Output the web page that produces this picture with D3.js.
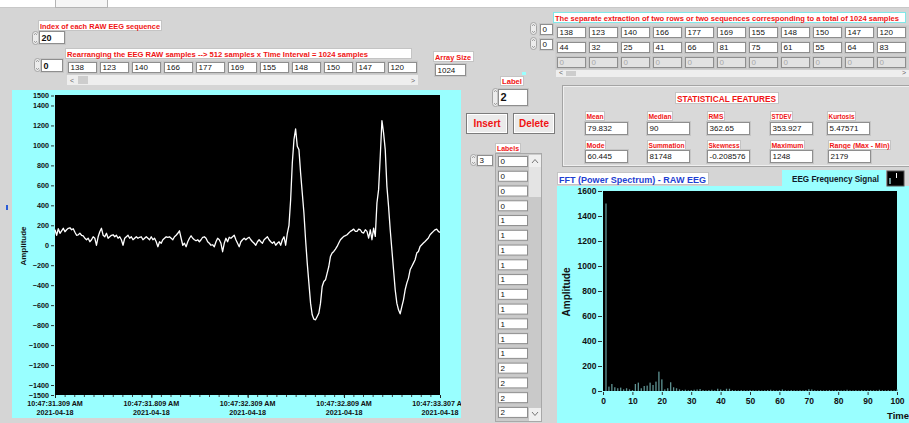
<!DOCTYPE html>
<html><head><meta charset="utf-8">
<script src="https://cdn.jsdelivr.net/npm/d3@7"></script>
<style>
body{margin:0;background:#d5d5d5;overflow:hidden}
svg{display:block;font-family:"Liberation Sans",Arial,sans-serif}
</style>
</head><body><svg id="c" width="909" height="423"></svg>
<script>
// ---------------- DATA ----------------
const rawSeqRow = [138,123,140,166,177,169,155,148,150,147,120];
const extractRow1 = [138,123,140,166,177,169,155,148,150,147,120];
const extractRow2 = [44,32,25,41,66,81,75,61,55,64,83];
const extractRow3 = [0,0,0,0,0,0,0,0,0,0,0];
const sequenceIndex = "20";
const rowIndex = "0";
const arraySize = "1024";
const labelValue = "2";
const labelsIndex = "3";
const labelList = [0,0,0,0,1,1,1,1,1,1,1,1,1,1,2,2,2,2];
const statNamesRow1 = ["Mean","Median","RMS","STDEV","Kurtosis"];
const statValuesRow1 = ["79.832","90","362.65","353.927","5.47571"];
const statNamesRow2 = ["Mode","Summation","Skewness","Maximum","Range (Max - Min)"];
const statValuesRow2 = ["60.445","81748","-0.208576","1248","2179"];

// EEG waveform: seconds after 10:47
const eegTimeStart = 31.309, eegTimeEnd = 33.307;
const eegTickTimes = [31.309,31.809,32.309,32.809,33.307];
const eegTickLabels = ["10:47:31.309 AM","10:47:31.809 AM","10:47:32.309 AM","10:47:32.809 AM","10:47:33.307 AM"];
const eegDateLabel = "2021-04-18";
const eegYTicks = [1500,1400,1200,1000,800,600,400,200,0,-200,-400,-600,-800,-1000,-1200,-1400,-1500];
const eegValues = [
155,100,165,120,145,170,135,155,170,175,
155,165,130,100,105,120,100,95,70,55,
70,35,55,85,70,0,85,135,170,100,
85,120,70,85,100,105,85,100,70,85,
55,0,70,85,100,70,85,55,70,85,
70,80,85,55,70,85,70,55,85,55,
70,35,-15,35,20,55,70,85,80,
85,70,55,85,100,120,145,70,0,20,
-15,35,70,95,70,55,45,55,35,55,
80,85,70,35,20,0,5,-15,35,70,
55,20,-65,20,70,35,80,70,85,100,
55,20,-15,35,55,70,55,70,80,55,
35,20,0,35,55,35,20,55,70,85,
55,35,20,35,0,20,35,0,55,85,
0,120,200,
456,824,1058,1165,991,958,724,523,323,55,
-179,-379,-580,-697,-741,-747,-714,-680,-580,-413,
-363,-346,-279,-213,-112,-78,-62,-38,-12,22,
55,72,89,96,105,122,139,149,162,139,
139,162,155,128,122,155,139,72,155,55,
172,89,423,557,891,1248,1125,958,590,389,
155,-45,-246,-446,-580,-647,-687,-614,-547,-446,
-379,-329,-246,-213,-179,-145,-78,-62,-12,5,
22,38,55,72,105,122,139,155,162,139,
128];

// FFT power spectrum, index = frequency bin 0..100
const fftValues = [
0,1500,35,56,30,22,27,13,22,13,
8,56,67,22,40,43,67,48,75,155,
93,13,22,70,30,22,13,8,10,6,
8,10,12,16,8,6,8,10,6,18,
12,6,18,18,8,6,5,8,6,5,
8,6,5,7,5,6,8,10,6,5,
7,12,6,5,8,6,5,7,6,8,
14,12,6,5,7,5,6,8,5,6,
7,5,6,10,6,5,7,5,8,6,
5,7,6,5,10,6,5,7,6,5,12];
const fftYTicks = [0,200,400,600,800,1000,1200,1400,1600];
const fftXTicks = [0,10,20,30,40,50,60,70,80,90,100];

// ---------------- DRAWING ----------------
const svg = d3.select("#c");
const RED = "#f01414", CYAN = "#99ffff";
function R(x,y,w,h,fill,stroke,sw){const r=svg.append("rect").attr("x",x).attr("y",y).attr("width",w).attr("height",h).attr("fill",fill||"none");if(stroke)r.attr("stroke",stroke).attr("stroke-width",sw||1);return r;}
function T(x,y,s,o){o=o||{};const t=svg.append("text").attr("x",x).attr("y",y).attr("font-size",o.fs||8).attr("fill",o.color||"#000").text(s);
 if(o.bold)t.attr("font-weight","bold");if(o.anchor)t.attr("text-anchor",o.anchor);
 if(o.tw)t.attr("textLength",o.tw).attr("lengthAdjust","spacingAndGlyphs");return t;}
function labelBox(x,y,w,h,s,o){o=o||{};
 R(x+0.5,y+0.5,w-1,h-1,"#fff",o.border||"#c4c4c4");
 T(x+(o.pad||2),y+h-2.3,s,{fs:o.fs||8,bold:true,color:o.color||RED,tw:o.tw});}
function cell(x,y,w,h,s,o){o=o||{};
 R(x-0.5,y-0.5,w+1,h+1,"none","#c6c6c6");
 R(x+0.5,y+0.5,w-1,h-1,o.disabled?"#e2e2e2":"#fff","#8e8e8e");
 T(x+2.5,y+h/2+(o.fs||8)*0.36,s,{fs:o.fs||8,bold:o.bold,color:o.disabled?"#a8a8a8":"#111"});}
function spinner(x,y,w,h){
 R(x+0.5,y+0.5,w-1,h-1,"#ececec","#a4a4a4").attr("rx",(w-1)/2);
 const cx=x+w/2;
 svg.append("path").attr("d",`M${cx-1.5},${y+4}L${cx},${y+2.3}L${cx+1.5},${y+4}`).attr("stroke","#8a8a8a").attr("fill","none").attr("stroke-width",0.8);
 svg.append("path").attr("d",`M${cx-1.5},${y+h-4}L${cx},${y+h-2.3}L${cx+1.5},${y+h-4}`).attr("stroke","#8a8a8a").attr("fill","none").attr("stroke-width",0.8);}
function button(x,y,w,h,s){
 R(x+0.5,y+0.5,w-1,h-1,"#ebebeb","#7c7c7c");
 R(x+1.5,y+1.5,w-3,h-3,"none","#ffffff");
 T(x+w/2,y+h/2+3.6,s,{fs:10,bold:true,color:RED,anchor:"middle"});}
function hscroll(x,y,w,h,thumbX,thumbW){
 R(x,y,w,h,"#eeeeee");
 if(thumbW)R(thumbX,y+1,thumbW,h-2,"#cdcdcd");
 T(x+3,y+h-2,"<",{fs:7,color:"#666"});T(x+w-7,y+h-2,">",{fs:7,color:"#666"});}

// top white strip with tab
R(0,0,909,8,"#ffffff");
svg.append("line").attr("x1",0).attr("x2",909).attr("y1",7.5).attr("y2",7.5).attr("stroke","#c8c8c8");
R(55.5,-1,52,8.5,"#f6f6f6","#b4b4b4");

// top-left controls
labelBox(38,20,124,11,"Index of each RAW EEG sequence",{tw:120});
spinner(32,31,7,14); cell(39,31,26,13,sequenceIndex,{bold:true,fs:9});
spinner(34,58,7,14); cell(41,59,22,13,rowIndex,{bold:true,fs:9});
labelBox(65,48,347,11,"Rearranging the EEG RAW samples --> 512 samples x Time Interval = 1024 samples",{tw:301});
R(66,60,352,15,"#cfcfcf");
rawSeqRow.forEach((v,i)=>cell(68+i*32,62,29,11,String(v)));
hscroll(67,75,351,10,78,10);

labelBox(433,51,41,11,"Array Size",{tw:36});
cell(435,64,31,12,arraySize);

// top-right array
labelBox(553,12,353,11,"The separate extraction of two rows or two sequences corresponding to a total of 1024 samples",{tw:344,fs:7.2,border:"#80e8e8"});
spinner(530,22,7,13); cell(540,24,13,11,rowIndex);
spinner(530,37,7,13); cell(540,39,13,11,rowIndex);
R(555,25,354,45,"#cfcfcf");
extractRow1.forEach((v,i)=>cell(557+i*32,27,29,11,String(v)));
extractRow2.forEach((v,i)=>cell(557+i*32,42,29,11,String(v)));
extractRow3.forEach((v,i)=>cell(557+i*32,57,29,11,String(v),{disabled:true}));
hscroll(556,70,353,7,566,10);
R(522,72,4,3,CYAN);

// statistics panel
R(562.5,85.5,350,81,"#d9d9d9","#a4a4a4");
R(563.5,86.5,348,79,"none","#efefef");
labelBox(675,92,104,12,"STATISTICAL FEATURES",{tw:99,fs:9.5});
const statCols=[585,647,707,770,827];
const statLblW1=[20,26,18,23,29], statLblW2=[21,39,34,35,63];
statNamesRow1.forEach((n,i)=>{labelBox(statCols[i],111,statLblW1[i],10,n,{tw:statLblW1[i]-3,fs:7.5,pad:1.5});
 cell(statCols[i],122,43,13,statValuesRow1[i]);});
statNamesRow2.forEach((n,i)=>{labelBox(statCols[i]+(i==4?1:0),140,statLblW2[i],10,n,{tw:statLblW2[i]-3,fs:7.5,pad:1.5});
 cell(statCols[i]+(i==4?1:0),150,43,13,statValuesRow2[i]);});

// middle column
labelBox(500,76,24,10,"Label",{tw:20});
spinner(492,88,7,19); cell(498,89,30,17,labelValue,{bold:true,fs:11});
button(466,113,42,21,"Insert"); button(513,113,42,21,"Delete");
labelBox(495,143,26,10,"Labels",{tw:22});
spinner(470,154,7,12); cell(477,155,16,11,labelsIndex);
R(495.5,153.5,46,268,"#cbcbcb","#a8a8a8");
labelList.forEach((v,i)=>cell(498,156+i*14.76,30,11,String(v)));
R(529,155,12,266,"#c9c9c9");
R(529,155,12,12,"#efefef"); R(529,167,12,30,"#e4e4e4"); R(529,408,12,13,"#efefef");
svg.append("path").attr("d","M532,163L535,159.5L538,163").attr("stroke","#777").attr("fill","none");
svg.append("path").attr("d","M532,412L535,415.5L538,412").attr("stroke","#777").attr("fill","none");

// ---- left chart: RAW EEG ----
R(12,90,449,328,CYAN);
const xL=d3.scaleLinear().domain([eegTimeStart,eegTimeEnd]).range([55,440]);
const yL=d3.scaleLinear().domain([-1500,1500]).range([395,95.5]);
R(55,95,385,300,"#000");
const gL=svg.append("g");
const yAxL=d3.axisLeft(yL).tickValues(eegYTicks).tickSize(3).tickPadding(2).tickFormat(d3.format("d"));
const ya=gL.append("g").attr("transform","translate(54,0)").call(yAxL);
ya.select(".domain").remove();
ya.selectAll("line").attr("stroke","#333");
ya.selectAll("text").attr("font-size",7.2).attr("font-weight","bold").attr("fill","#111").attr("font-family","Liberation Sans,Arial").attr("dy","0.3em");
const minorT=d3.range(0,41).map(k=>eegTimeStart+k*(eegTimeEnd-eegTimeStart)/40);
const xa=gL.append("g").attr("transform","translate(0,395)").call(d3.axisBottom(xL).tickValues(minorT).tickSize(2).tickFormat(""));
xa.select(".domain").remove(); xa.selectAll("line").attr("stroke","#444");
const xaM=gL.append("g").attr("transform","translate(0,395)").call(d3.axisBottom(xL).tickValues(eegTickTimes).tickSize(3).tickFormat(""));
xaM.select(".domain").remove(); xaM.selectAll("line").attr("stroke","#222");
const clipL=svg.append("clipPath").attr("id","clipL"); clipL.append("rect").attr("x",12).attr("y",90).attr("width",449).attr("height",328);
const lblG=svg.append("g").attr("clip-path","url(#clipL)");
eegTickTimes.forEach((t,i)=>{
 lblG.append("text").attr("x",xL(t)).attr("y",405.5).attr("text-anchor","middle").attr("font-size",7.2).attr("font-weight","bold").attr("fill","#111").text(eegTickLabels[i]);
 lblG.append("text").attr("x",xL(t)).attr("y",414.5).attr("text-anchor","middle").attr("font-size",7.2).attr("font-weight","bold").attr("fill","#111").text(eegDateLabel);
});
svg.append("text").attr("transform","translate(26,246) rotate(-90)").attr("text-anchor","middle").attr("font-size",8).attr("font-weight","bold").attr("fill","#111").text("Amplitude");
const nE=eegValues.length;
const eegLine=d3.line().x((d,i)=>xL(eegTimeStart+i*(eegTimeEnd-eegTimeStart)/(nE-1))).y(d=>yL(d));
svg.append("path").datum(eegValues).attr("d",eegLine).attr("fill","none").attr("stroke","#ffffff").attr("stroke-width",1.3).attr("stroke-linejoin","round");

// ---- FFT chart ----
R(557,186,352,237,CYAN);
labelBox(557,172,152,13,"FFT (Power Spectrum) - RAW EEG",{tw:147,color:"#1f3fd2",fs:8.5});
R(782,170,104,17,CYAN);
T(792,182,"EEG Frequency Signal",{fs:8.5,bold:true,color:"#101828",tw:87});
R(887,171,17,15,"#000","#555");
R(896,173,1,5,"#ffffff"); R(889,178,2,6,"#6b8f8f");
const xF=d3.scaleLinear().domain([0,100]).range([603,897]);
const yF=d3.scaleLinear().domain([0,1600]).range([391,191]);
R(603,191,294,200,"#000");
svg.append("g").selectAll("rect").data(fftValues).join("rect")
 .attr("x",(d,i)=>xF(i)-0.6).attr("width",1.3)
 .attr("y",d=>yF(d)).attr("height",d=>yF(0)-yF(d)).attr("fill","#5f9393");
const fy=svg.append("g").attr("transform","translate(602,0)").call(d3.axisLeft(yF).tickValues(fftYTicks).tickSize(4).tickPadding(1.5).tickFormat(d3.format("d")));
fy.select(".domain").remove(); fy.selectAll("line").attr("stroke","#333");
fy.selectAll("text").attr("font-size",8.5).attr("font-weight","bold").attr("fill","#111").attr("font-family","Liberation Sans,Arial");
const fx=svg.append("g").attr("transform","translate(0,392)").call(d3.axisBottom(xF).tickValues(fftXTicks).tickSize(3).tickPadding(3).tickFormat(d3.format("d")));
fx.select(".domain").remove(); fx.selectAll("line").attr("stroke","#333");
fx.selectAll("text").attr("font-size",8.5).attr("font-weight","bold").attr("fill","#111").attr("font-family","Liberation Sans,Arial");
T(887,418.5,"Time",{fs:9.5,bold:true,color:"#111"});
svg.append("text").attr("transform","translate(570,292) rotate(-90)").attr("text-anchor","middle").attr("font-size",10).attr("font-weight","bold").attr("fill","#111").text("Amplitude");

// small blue mark at the left edge
R(6,205,2,5,"#2a5bd7");
</script></body></html>
